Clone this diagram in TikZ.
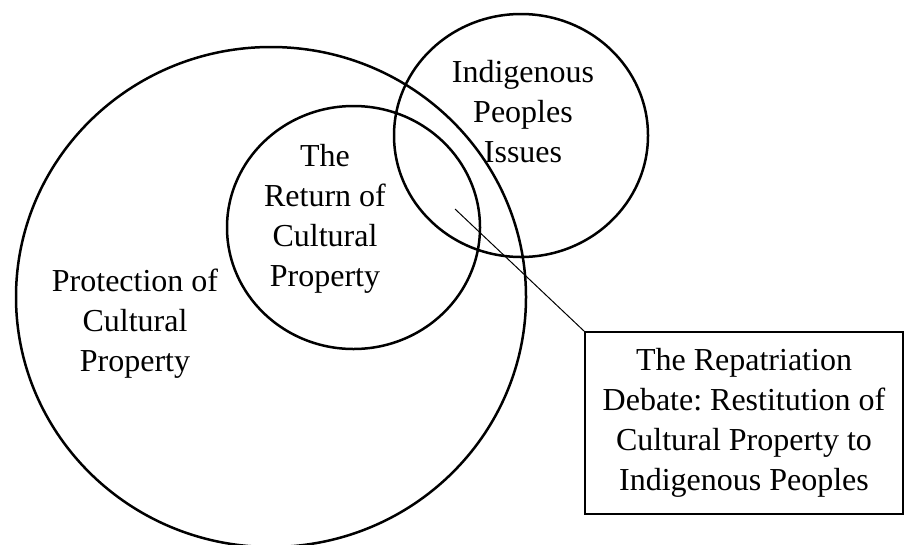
\documentclass[tikz,border=0pt]{standalone}
\usepackage{fontspec}
\setmainfont{Liberation Serif}
\usetikzlibrary{shapes.geometric}
\frenchspacing
\begin{document}
\begin{tikzpicture}[x=1pt,y=-1pt,
  ring/.style={draw, ellipse, line width=2.5pt, inner sep=0pt},
  lbl/.style={align=center, font=\fontsize{32}{40}\selectfont, inner sep=0pt},
  callout/.style={draw, line width=1.2pt, rectangle, inner sep=0pt, align=center,
    font=\fontsize{32}{40}\selectfont}]
\useasboundingbox (0,0) rectangle (904,544);
\node[ring, minimum width=510pt, minimum height=500pt] (big) at (271,297) {};
\node[ring, minimum width=253pt, minimum height=243pt] (inner) at (353.5,227.5) {};
\node[ring, minimum width=254pt, minimum height=243pt] (indig) at (521,135.5) {};
\node[lbl] (tinner) at (325,219) {The\\Return of\\Cultural\\Property};
\node[lbl] (tbig) at (135,324) {Protection of\\Cultural\\Property};
\node[lbl] (tindig) at (523,112) {Indigenous\\Peoples\\Issues};
\node[callout, minimum width=318pt, minimum height=182pt] (box) at (744,423)
  {The Repatriation\\Debate: Restitution of\\Cultural Property to\\Indigenous Peoples};
\coordinate (pt) at (455,209);
\draw[line width=1pt] (pt) -- (box.north west);
\end{tikzpicture}
\end{document}
